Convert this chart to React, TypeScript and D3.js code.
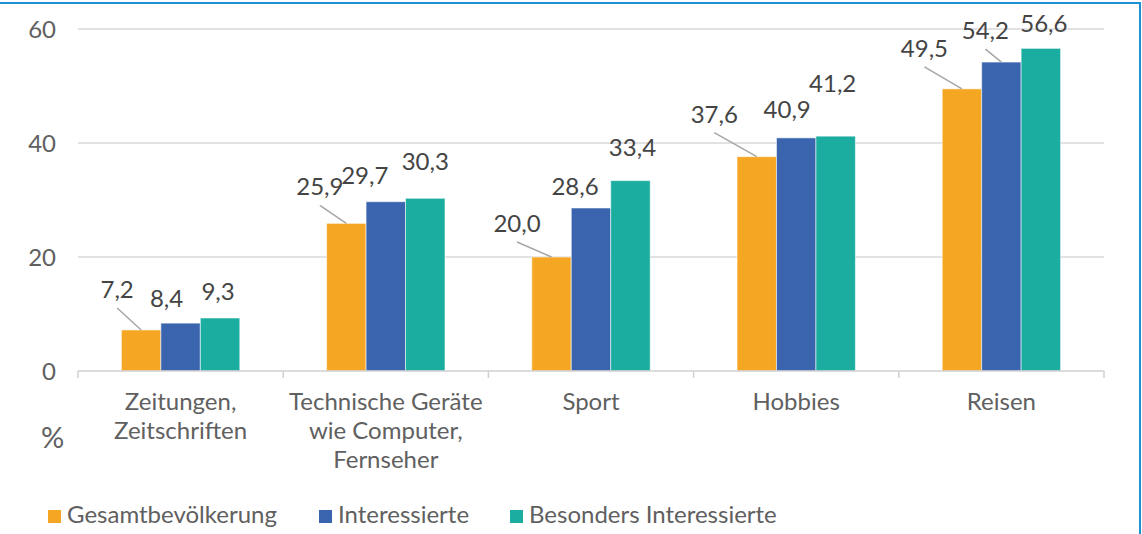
import React from "react";
import * as d3 from "d3";

const categories = ["Zeitungen,\nZeitschriften", "Technische Geräte\nwie Computer,\nFernseher", "Sport", "Hobbies", "Reisen"];
const seriesNames = ["Gesamtbevölkerung", "Interessierte", "Besonders Interessierte"];
const gesamt = [7.2, 25.9, 20.0, 37.6, 49.5];
const interessierte = [8.4, 29.7, 28.6, 40.9, 54.2];
const besonders = [9.3, 30.3, 33.4, 41.2, 56.6];
const yTicks = [0, 20, 40, 60];
const yUnit = "%";

const seriesValues = [gesamt, interessierte, besonders];
const colors = ["#F5A623", "#3A65AE", "#1BADA0"];

// label offsets (layout): [dx, dy from bar top to baseline, leader?]
const labelLayout: [number, number, boolean][][] = [
  [[-24, -32, true], [-26.5, -28, true], [-34.5, -25, true], [-42.5, -34, true], [-37.5, -32, true]],
  [[-14, -16, false], [-21, -18, false], [-16, -13, false], [-9, -20, false], [-16, -23, true]],
  [[-2, -18, false], [0, -28, false], [2, -25, false], [-3, -44, false], [3, -16, false]],
];

const W = 1142, H = 534;
const FONT = "Lato, 'Open Sans', sans-serif";

export default function App() {
  const x0 = d3.scaleBand<string>().domain(categories).range([78, 1104]).paddingInner(0).paddingOuter(0);
  const bw = x0.bandwidth();
  const bar = bw / 5.2;
  const gap = bar * 2.2;
  const x1 = d3.scaleBand<number>().domain([0, 1, 2]).range([gap / 2, bw - gap / 2]).padding(0);
  const y = d3.scaleLinear().domain([0, 60]).range([371, 29]);

  const legendX = [48, 319, 510];

  return (
    <svg width={W} height={H} style={{ position: "absolute", left: 0, top: 0, background: "#fff" }} fontFamily={FONT} fontWeight={400}>
      {/* frame */}
      <line x1={0} x2={1140} y1={3} y2={3} stroke="#1E90D2" strokeWidth={2} />
      <line x1={1140} x2={1140} y1={2} y2={H} stroke="#1E90D2" strokeWidth={2} />

      {/* gridlines */}
      {yTicks.filter(t => t > 0).map(t => (
        <line key={t} x1={78} x2={1104} y1={y(t)} y2={y(t)} stroke="#D9D9D9" strokeWidth={1.5} />
      ))}
      {yTicks.map(t => (
        <text key={t} x={56} y={y(t)} dy="0.36em" textAnchor="end" fontSize={24} fill="#606060">{t}</text>
      ))}

      {/* bars */}
      {categories.map((c, ci) => (
        <g key={c} transform={`translate(${x0(c)},0)`}>
          {seriesValues.map((vals, si) => (
            <rect key={si} x={x1(si)} y={y(vals[ci])} width={x1.bandwidth()} height={y(0) - y(vals[ci])}
              fill={colors[si]} stroke="rgba(255,255,255,0.55)" strokeWidth={1} />
          ))}
        </g>
      ))}

      {/* axis */}
      <line x1={78} x2={1104} y1={y(0)} y2={y(0)} stroke="#D0D0D0" strokeWidth={1.5} />
      {[...categories.map(c => x0(c)!), 1104].map((xx, i) => (
        <line key={i} x1={xx} x2={xx} y1={y(0)} y2={y(0) + 7} stroke="#D0D0D0" strokeWidth={1.5} />
      ))}

      {/* category labels */}
      {categories.map(c => (
        <text key={c} x={x0(c)! + bw / 2} y={410} textAnchor="middle" fontSize={24} fill="#606060">
          {c.split("\n").map((l, i) => (
            <tspan key={i} x={x0(c)! + bw / 2} y={410 + i * 29}>{l}</tspan>
          ))}
        </text>
      ))}
      <text x={41} y={448} fontSize={29} fill="#606060">{yUnit}</text>

      {/* data labels */}
      {categories.map((c, ci) =>
        seriesValues.map((vals, si) => {
          const cx = x0(c)! + x1(si)! + x1.bandwidth() / 2;
          const top = y(vals[ci]);
          const [dx, dy, leader] = labelLayout[si][ci];
          const lx = cx + dx, ly = top + dy;
          return (
            <g key={`${ci}-${si}`}>
              {leader && <line x1={lx} y1={ly + 10} x2={cx} y2={top} stroke="#A6A6A6" strokeWidth={1.5} />}
              <text x={lx} y={ly} textAnchor="middle" fontSize={24} fill="#444444">
                {d3.format(".1f")(vals[ci]).replace(".", ",")}
              </text>
            </g>
          );
        })
      )}

      {/* legend */}
      {seriesNames.map((n, i) => (
        <g key={n}>
          <rect x={legendX[i]} y={510} width={13} height={13} fill={colors[i]} />
          <text x={legendX[i] + 19} y={523} fontSize={24} fill="#606060">{n}</text>
        </g>
      ))}
    </svg>
  );
}
